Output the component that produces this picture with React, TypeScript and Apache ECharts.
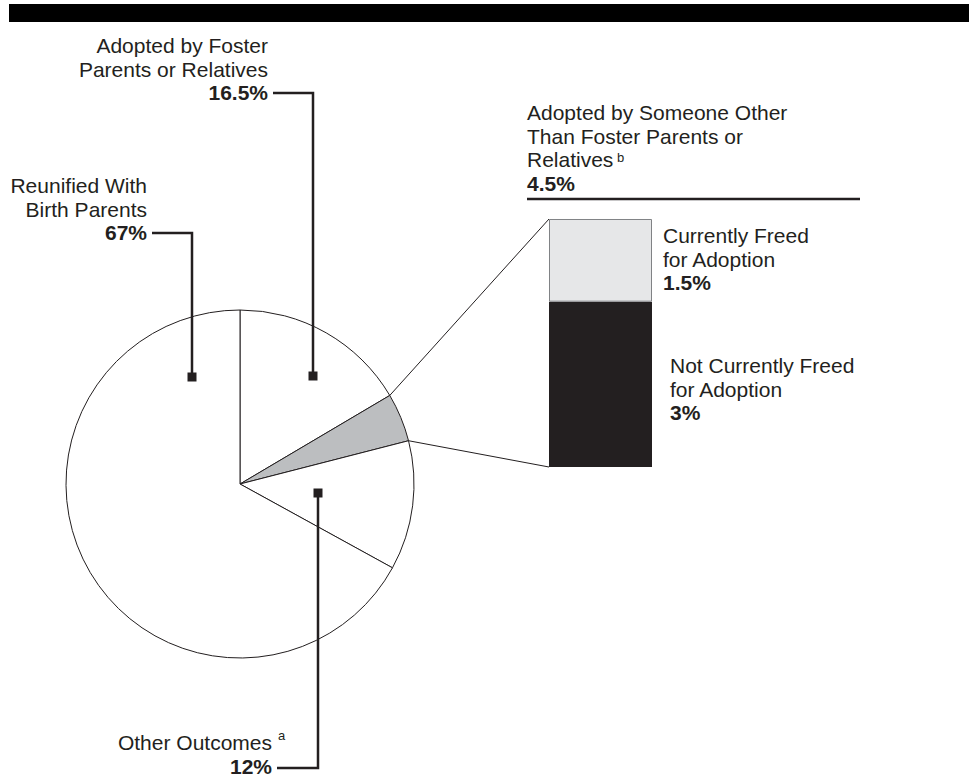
import React, { useEffect, useRef } from "react";
import * as echarts from "echarts";

// ---- data ----
const sliceNames = [
  "Adopted by Foster Parents or Relatives",
  "Adopted by Someone Other Than Foster Parents or Relatives",
  "Other Outcomes",
  "Reunified With Birth Parents",
];
const sliceValues = [16.5, 4.5, 12, 67];
const barNames = ["Not Currently Freed for Adoption", "Currently Freed for Adoption"];
const barValues = [3, 1.5];

const fosterLines = ["Adopted by Foster", "Parents or Relatives"];
const someoneLines = ["Adopted by Someone Other", "Than Foster Parents or", "Relatives"];
const otherLines = ["Other Outcomes"];
const reunifiedLines = ["Reunified With", "Birth Parents"];
const freedLines = ["Currently Freed", "for Adoption"];
const notFreedLines = ["Not Currently Freed", "for Adoption"];

// ---- layout ----
const INK = "#231f20";
const FONT = "'Liberation Sans', Arial, Helvetica, sans-serif";
const FS = 21;
const LH = 23.5;
const PIE_CX = 240;
const PIE_CY = 484;
const PIE_R = 174;
const BAR_L = 549;
const BAR_T = 219;
const BAR_W = 103;
const BAR_H = 248;
const Z = 100;

function textLine(str: string, x: number, baseline: number, align: string, bold = false, fs = FS) {
  return {
    type: "text",
    silent: true,
    z: Z,
    style: {
      text: str,
      x,
      y: baseline - 0.3465 * fs,
      fill: INK,
      fontSize: fs,
      fontWeight: bold ? "bold" : "normal",
      fontFamily: FONT,
      align,
      verticalAlign: "middle",
    },
  };
}

function block(lines: string[], pct: string, x: number, firstBaseline: number, align: string) {
  const els: any[] = lines.map((l, i) => textLine(l, x, firstBaseline + i * LH, align));
  els.push(textLine(pct, x, firstBaseline + lines.length * LH, align, true));
  return els;
}

function leader(points: number[][], marker: number[]) {
  return [
    {
      type: "polyline",
      silent: true,
      z: Z,
      shape: { points },
      style: { stroke: INK, lineWidth: 2.5, fill: null },
    },
    {
      type: "rect",
      silent: true,
      z: Z,
      shape: { x: marker[0] - 4.5, y: marker[1] - 4.5, width: 9, height: 9 },
      style: { fill: INK },
    },
  ];
}

export default function App() {
  const ref = useRef<HTMLDivElement>(null);
  useEffect(() => {
    if (!ref.current) return;
    const chart = echarts.init(ref.current, undefined, { renderer: "svg" });

    // slice boundary angles for the exploded slice (index 1)
    const total = sliceValues.reduce((a, b) => a + b, 0);
    const startDeg = 90 - (360 * sliceValues[0]) / total;
    const endDeg = startDeg - (360 * sliceValues[1]) / total;
    const pt = (deg: number) => [
      PIE_CX + PIE_R * Math.cos((deg * Math.PI) / 180),
      PIE_CY - PIE_R * Math.sin((deg * Math.PI) / 180),
    ];
    const p1 = pt(startDeg);
    const p2 = pt(endDeg);

    const pct = (v: number) => `${v}%`;

    const graphics: any[] = [
      {
        type: "rect",
        silent: true,
        z: Z,
        shape: { x: 9, y: 4, width: 960, height: 18 },
        style: { fill: "#000" },
      },
      {
        type: "line",
        silent: true,
        z: Z,
        shape: { x1: p1[0], y1: p1[1], x2: BAR_L, y2: BAR_T },
        style: { stroke: INK, lineWidth: 1 },
      },
      {
        type: "line",
        silent: true,
        z: Z,
        shape: { x1: p2[0], y1: p2[1], x2: BAR_L, y2: BAR_T + BAR_H },
        style: { stroke: INK, lineWidth: 1 },
      },
      {
        type: "line",
        silent: true,
        z: Z,
        shape: { x1: 527, y1: 199, x2: 860, y2: 199 },
        style: { stroke: INK, lineWidth: 2.5 },
      },
      ...block(fosterLines, pct(sliceValues[0]), 268, 53, "right"),
      ...leader([[273, 93], [313, 93], [313, 376]], [313, 376]),
      ...block(reunifiedLines, pct(sliceValues[3]), 147, 193, "right"),
      ...leader([[152, 233], [192, 233], [192, 377]], [192, 377]),
      ...block(otherLines, pct(sliceValues[2]), 272, 750, "right"),
      textLine("a", 278, 740, "left", false, 13),
      ...leader([[277, 768], [318, 768], [318, 493]], [318, 493]),
      ...block(someoneLines, pct(sliceValues[1]), 527, 120, "left"),
      textLine("b", 617, 162, "left", false, 13),
      ...block(freedLines, pct(barValues[1]), 663, 243, "left"),
      ...block(notFreedLines, pct(barValues[0]), 670, 373, "left"),
    ];

    chart.setOption({
      animation: false,
      backgroundColor: "#ffffff",
      grid: { left: BAR_L, top: BAR_T, width: BAR_W, height: BAR_H, containLabel: false },
      xAxis: { type: "category", data: ["b"], show: false },
      yAxis: { type: "value", min: 0, max: sliceValues[1], show: false },
      series: [
        {
          type: "pie",
          center: [PIE_CX, PIE_CY],
          radius: PIE_R,
          startAngle: 90,
          clockwise: true,
          silent: true,
          z: 1,
          label: { show: false },
          labelLine: { show: false },
          emphasis: { disabled: true },
          data: sliceNames.map((n, i) => ({
            name: n,
            value: sliceValues[i],
            itemStyle: {
              color: i === 1 ? "#bcbec0" : "#ffffff",
              borderColor: INK,
              borderWidth: 1,
            },
          })),
        },
        {
          type: "bar",
          name: barNames[0],
          stack: "s",
          barWidth: "100%",
          silent: true,
          data: [barValues[0]],
          itemStyle: { color: INK },
        },
        {
          type: "bar",
          name: barNames[1],
          stack: "s",
          barWidth: "100%",
          silent: true,
          data: [barValues[1]],
          itemStyle: { color: "#e6e7e8", borderColor: "#808285", borderWidth: 1 },
        },
      ],
      graphic: { elements: graphics },
    });
    return () => chart.dispose();
  }, []);
  return (
    <div
      ref={ref}
      style={{ position: "fixed", left: 0, top: 0, width: 969, height: 783, background: "#fff" }}
    />
  );
}
